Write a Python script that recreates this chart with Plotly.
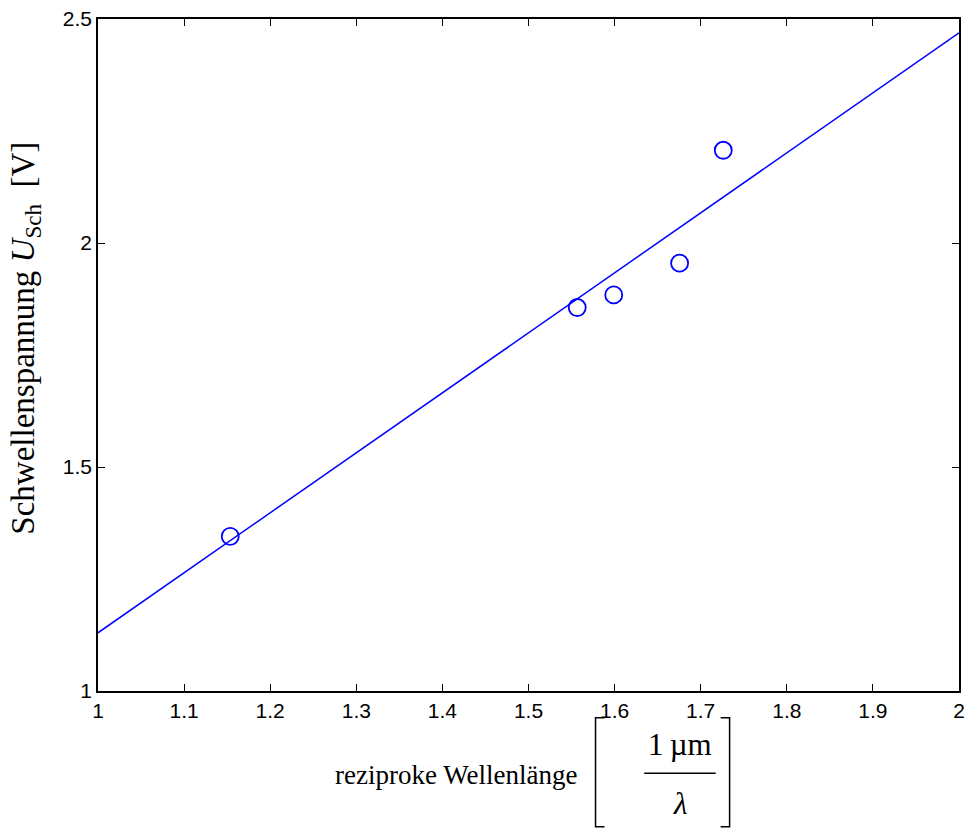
import plotly.graph_objects as go

# data
x_meas = [1.1536, 1.5566, 1.5990, 1.6755, 1.7262]
y_meas = [1.345, 1.856, 1.884, 1.955, 2.207]
fit_x = [1.0, 2.0]
fit_y = [1.130, 2.469]
x_ticks = [1, 1.1, 1.2, 1.3, 1.4, 1.5, 1.6, 1.7, 1.8, 1.9, 2]
y_ticks = [1, 1.5, 2, 2.5]

W, H = 972, 832
L, R, T, B = 98, 7, 13, 141
pw, ph = W - L - R, H - T - B

def px(xp):
    return (xp - L) / pw

def py(yp):
    return (H - B - yp) / ph

fig = go.Figure()
fig.add_trace(go.Scatter(x=fit_x, y=fit_y, mode="lines",
                         line=dict(color="#0000ff", width=1.5), hoverinfo="skip"))
fig.add_trace(go.Scatter(x=x_meas, y=y_meas, mode="markers",
                         marker=dict(symbol="circle-open", size=17, color="#0000ff",
                                     line=dict(width=1.8, color="#0000ff"))))

axis_common = dict(showgrid=False, zeroline=False, showline=True, linecolor="black",
                   linewidth=1.5, mirror="ticks", ticks="inside", ticklen=7,
                   tickcolor="black", tickwidth=1,
                   tickfont=dict(family="Liberation Sans, Arial", size=21, color="black"))

fig.update_layout(
    width=W, height=H, margin=dict(l=L, r=R, t=T, b=B),
    paper_bgcolor="white", plot_bgcolor="white", showlegend=False,
    xaxis=dict(range=[1, 2], tickvals=x_ticks, ticktext=[f"{v:g}" for v in x_ticks], **axis_common),
    yaxis=dict(range=[1, 2.5], tickvals=y_ticks, ticktext=[f"{v:g}" for v in y_ticks], **axis_common),
)

serif = dict(family="Liberation Serif, Times New Roman", size=27, color="black")
serif_big = dict(family="Liberation Serif, Times New Roman", size=31, color="black")
serif_y = dict(family="Liberation Serif, Times New Roman", size=33, color="black")
ann = [
    dict(text="reziproke Wellenlänge", x=px(582), y=py(776), xanchor="right", yanchor="middle", font=serif),
    dict(text="1\u2009µm", x=px(684), y=py(745), xanchor="center", yanchor="middle", font=serif_big),
    dict(text="<i>λ</i>", x=px(684), y=py(805), xanchor="center", yanchor="middle", font=serif_big),
    dict(text="Schwellenspannung <i>U</i><sub>Sch</sub>  [V]", x=px(25), y=py(335),
         xanchor="center", yanchor="middle", textangle=-90, font=serif_y),
]
for a in ann:
    a.update(xref="paper", yref="paper", showarrow=False)
fig.update_layout(annotations=ann)

lb, rb, bt, bb = 599, 734, 718, 828
shapes = [
    dict(type="line", x0=px(648), x1=px(720), y0=py(774), y1=py(774)),
    dict(type="path", path=f"M {px(lb+9)} {py(bt)} L {px(lb)} {py(bt)} L {px(lb)} {py(bb)} L {px(lb+9)} {py(bb)}"),
    dict(type="path", path=f"M {px(rb-9)} {py(bt)} L {px(rb)} {py(bt)} L {px(rb)} {py(bb)} L {px(rb-9)} {py(bb)}"),
]
for s in shapes:
    s.update(xref="paper", yref="paper", line=dict(color="black", width=1.5))
fig.update_layout(shapes=shapes)

fig.write_html("out.html")
